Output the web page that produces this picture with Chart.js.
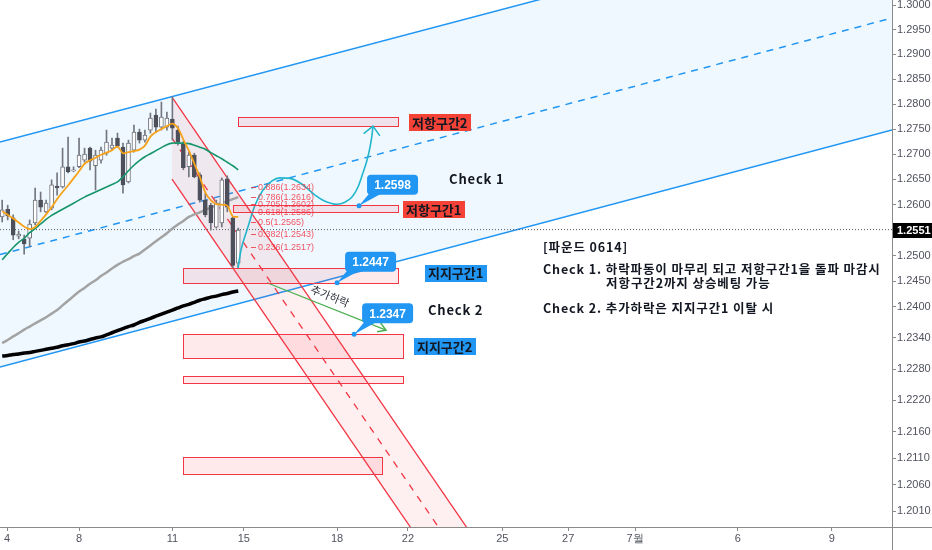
<!DOCTYPE html>
<html><head><meta charset="utf-8">
<script src="https://cdn.jsdelivr.net/npm/chart.js@4.4.1/dist/chart.umd.min.js"></script>
<style>html,body{margin:0;padding:0;background:#fff;overflow:hidden}canvas{display:block}</style>
</head><body>
<canvas id="c" width="932" height="550" style="width:932px;height:550px"></canvas>
<script>
// ---------- DATA (4H candles, GBP/USD) ----------
const candleOpen  = [1.2576,1.2591,1.2574,1.2538,1.2533,1.2534,1.2564,1.2609,1.2586,1.2593,1.2637,1.2635,1.2675,1.2667,1.2675,1.2688,1.2712,1.2677,1.2688,1.2702,1.2712,1.2732,1.2714,1.2645,1.2708,1.2744,1.2728,1.2748,1.2778,1.2754,1.2754,1.2770,1.2748,1.2722,1.2675,1.2698,1.2659,1.2609,1.2599,1.2556,1.2564,1.2651,1.2574,1.2485];
const candleHigh  = [1.2609,1.2599,1.2580,1.2548,1.2540,1.2570,1.2633,1.2625,1.2609,1.2649,1.2663,1.2712,1.2734,1.2675,1.2732,1.2712,1.2714,1.2708,1.2714,1.2748,1.2732,1.2742,1.2722,1.2728,1.2758,1.2750,1.2748,1.2782,1.2790,1.2804,1.2784,1.2814,1.2756,1.2726,1.2704,1.2702,1.2663,1.2623,1.2603,1.2609,1.2653,1.2657,1.2576,1.2554];
const candleLow   = [1.2566,1.2570,1.2531,1.2533,1.2503,1.2517,1.2560,1.2586,1.2584,1.2590,1.2619,1.2633,1.2663,1.2665,1.2673,1.2684,1.2669,1.2629,1.2682,1.2698,1.2708,1.2714,1.2623,1.2643,1.2704,1.2722,1.2724,1.2742,1.2744,1.2748,1.2748,1.2728,1.2718,1.2669,1.2655,1.2653,1.2605,1.2576,1.2550,1.2554,1.2556,1.2586,1.2476,1.2477];
const candleClose = [1.2590,1.2578,1.2540,1.2542,1.2523,1.2562,1.2609,1.2595,1.2603,1.2639,1.2633,1.2675,1.2665,1.2669,1.2698,1.2700,1.2686,1.2698,1.2708,1.2724,1.2718,1.2716,1.2639,1.2722,1.2744,1.2728,1.2738,1.2772,1.2754,1.2774,1.2772,1.2752,1.2724,1.2673,1.2698,1.2655,1.2609,1.2580,1.2564,1.2603,1.2649,1.2595,1.2481,1.2550];

const maFast = [1.2587,1.2580,1.2573,1.2565,1.2557,1.2552,1.2556,1.2568,1.2581,1.2595,1.2611,1.2625,1.2638,1.2652,1.2666,1.2681,1.2688,1.2693,1.2699,1.2703,1.2708,1.2715,1.2702,1.2704,1.2706,1.2709,1.2717,1.2735,1.2744,1.2750,1.2756,1.2761,1.2752,1.2729,1.2707,1.2681,1.2655,1.2624,1.2609,1.2601,1.2600,1.2598,1.2577,1.2576];
const maMid  = [1.2492,1.2504,1.2516,1.2526,1.2534,1.2545,1.2553,1.2562,1.2571,1.2579,1.2585,1.2591,1.2597,1.2603,1.2609,1.2615,1.2620,1.2625,1.2630,1.2635,1.2640,1.2645,1.2655,1.2667,1.2678,1.2687,1.2695,1.2701,1.2707,1.2713,1.2719,1.2722,1.2722,1.2722,1.2721,1.2718,1.2714,1.2710,1.2703,1.2697,1.2691,1.2684,1.2677,1.2669];
const ma100  = [1.2330,1.2336,1.2343,1.2349,1.2356,1.2362,1.2368,1.2374,1.2380,1.2387,1.2394,1.2403,1.2412,1.2421,1.2430,1.2437,1.2445,1.2452,1.2460,1.2467,1.2475,1.2482,1.2488,1.2493,1.2499,1.2504,1.2512,1.2520,1.2528,1.2536,1.2544,1.2553,1.2561,1.2568,1.2576,1.2581,1.2585,1.2590,1.2594,1.2599,1.2603,1.2607,1.2611,1.2615];
const ma200  = [1.2305,1.2306,1.2308,1.2309,1.2311,1.2312,1.2314,1.2316,1.2318,1.2320,1.2322,1.2325,1.2327,1.2329,1.2332,1.2334,1.2337,1.2340,1.2342,1.2346,1.2350,1.2354,1.2358,1.2362,1.2365,1.2370,1.2374,1.2378,1.2382,1.2386,1.2390,1.2394,1.2398,1.2402,1.2405,1.2409,1.2413,1.2416,1.2419,1.2421,1.2424,1.2426,1.2429,1.2431];

const xTickPos    = [0.9, 14, 31, 44, 61, 73.9, 91.1, 103.1, 115.3, 134, 151.1];
const xTickLabels = ['4','8','11','15','18','22','25','27','7월','6','9'];
const yTickValues = [1.3000,1.2950,1.2900,1.2850,1.2800,1.2750,1.2700,1.2650,1.2600,1.2500,1.2450,1.2400,1.2340,1.2280,1.2220,1.2160,1.2110,1.2060,1.2010];
const currentPrice = 1.2551;
const X_MIN = -0.4, X_MAX = 162.08, Y_MIN = 1.19802, Y_MAX = 1.30102;

// rising channel (time, price)
const channelTime  = [-0.4, 162.08];
const channelUpper = [1.27242, 1.32020];
const channelMid   = [1.25020, 1.29736];
const channelLower = [1.22838, 1.27481];
// falling channel
const fallTime  = [30.93, 88.67];
const fallUpper = [1.28141, 1.19186];
const fallMid   = [1.27321, 1.18424];
const fallLower = [1.26507, 1.17666];

// projected path
const pathTime  = [42.95,43.5,44.59,46.05,47.51,49.14,50.6,52.79,54.79,56.98,58.8,60.98,62.44,63.72,64.81,65.72,66.45,67.0,67.36,67.54];
const pathPrice = [1.2476,1.2511,1.2550,1.2599,1.2629,1.2647,1.2653,1.2651,1.2639,1.2619,1.2607,1.2601,1.2605,1.2615,1.2635,1.2663,1.2688,1.2714,1.2738,1.2756];
// extra-drop arrow
const dropTime  = [48.23, 69.91];
const dropPrice = [1.2447, 1.2355];

// zones
const zoneFrom  = [42.95, 42.04, 32.93, 32.93, 32.93, 32.93];
const zoneTo    = [72.1, 72.1, 72.1, 73.0, 73.0, 69.18];
const zoneHigh  = [1.2774, 1.2599, 1.2476, 1.2347, 1.2266, 1.2112];
const zoneLow   = [1.2756, 1.2586, 1.2446, 1.2301, 1.2253, 1.2080];

const zoneLabelText  = ['저항구간2','저항구간1','지지구간1','지지구간2'];
const zoneLabelTime  = [74.1, 73.0, 77.0, 75.0];
const zoneLabelPrice = [1.2765, 1.2592, 1.2467, 1.2324];
const zoneLabelKind  = ['resist','resist','support','support'];

const calloutValue = [1.2598, 1.2447, 1.2347];
const calloutTime  = [65.0, 61.0, 64.1];

const fibRatio = [0.886, 0.786, 0.705, 0.618, 0.5, 0.382, 0.236];
const fibPrice = [1.2634, 1.2616, 1.2602, 1.2586, 1.2565, 1.2543, 1.2517];
const fibTime  = 45.32;

const noteText  = ['Check 1','Check 2','[파운드 0614]','Check 1. 하락파동이 마무리 되고 저항구간1을 돌파 마감시','저항구간2까지 상승베팅 가능','Check 2. 추가하락은 지지구간1 이탈 시'];
const noteTime  = [81.4, 77.56, 98.5, 98.5, 110.0, 98.5];
const notePrice = [1.2651, 1.2394, 1.2517, 1.2473, 1.2446, 1.2397];
const dropLabel = '추가하락';
const dropLabelTime = 59.71, dropLabelPrice = 1.2421;

// ---------- BUILD ----------
const pts = (xs, ys) => xs.map((x, i) => ({x, y: ys[i]}));
const idxPts = arr => arr.map((v, i) => ({x: i, y: v}));
const isUp = candleOpen.map((o, i) => candleClose[i] >= o);

const lineDs = (data, color, width, extra) => Object.assign({
  type: 'line', data, borderColor: color, borderWidth: width, pointRadius: 0,
  pointHoverRadius: 0, fill: false, tension: 0
}, extra || {});

const datasets = [
  lineDs(pts(channelTime, channelUpper), '#2196f3', 1.5, {fill: 2, backgroundColor: 'rgba(33,150,243,0.07)', order: 20}),
  lineDs(pts(channelTime, channelMid), '#2196f3', 1.5, {borderDash: [7, 6], order: 19}),
  lineDs(pts(channelTime, channelLower), '#2196f3', 1.5, {order: 20}),
  lineDs(pts(fallTime, fallUpper), '#f23645', 1.3, {fill: 5, backgroundColor: 'rgba(242,54,69,0.08)', order: 18}),
  lineDs(pts(fallTime, fallMid), '#f23645', 1.3, {borderDash: [7, 7], order: 18}),
  lineDs(pts(fallTime, fallLower), '#f23645', 1.3, {order: 18}),
  lineDs(pts(channelTime, [currentPrice, currentPrice]), '#555a66', 1, {borderDash: [1, 2], order: 17}),
  lineDs(idxPts(ma200), '#000000', 3.5, {tension: 0.3, order: 16}),
  lineDs(idxPts(ma100), '#a3a3a3', 2.5, {tension: 0.3, order: 16}),
  {
    type: 'bar', data: pts(candleOpen.map((_, i) => i), candleLow.map((l, i) => [l, candleHigh[i]])),
    backgroundColor: '#737680', barThickness: 1, grouped: false, order: 12, borderWidth: 0
  },
  {
    type: 'bar', data: pts(candleOpen.map((_, i) => i), candleOpen.map((o, i) => [o, candleClose[i]])),
    backgroundColor: isUp.map(u => u ? '#ffffff' : '#4d505a'),
    borderColor: isUp.map(u => u ? '#6f727c' : '#4d505a'),
    borderWidth: 1, borderSkipped: false, barThickness: 4, grouped: false, order: 11
  },
  lineDs(idxPts(maMid), '#16946a', 1.6, {tension: 0.3, order: 5}),
  lineDs(idxPts(maFast), '#f7a21b', 1.8, {tension: 0.3, order: 4}),
  lineDs(pts(pathTime, pathPrice), '#22b6cc', 1.6, {tension: 0.4, cubicInterpolationMode: 'monotone', order: 2}),
  lineDs(pts(dropTime, dropPrice), '#4caf50', 1.2, {order: 2})
];

const annot = {
  id: 'annot',
  afterDatasetsDraw(chart) {
    const {ctx, chartArea: a} = chart;
    const X = v => chart.scales.x.getPixelForValue(v);
    const Y = v => chart.scales.y.getPixelForValue(v);
    ctx.save();
    ctx.beginPath(); ctx.rect(a.left, a.top, a.right - a.left, a.bottom - a.top); ctx.clip();

    // zones
    zoneFrom.forEach((f, i) => {
      const x1 = Math.round(X(f)) + .5, x2 = Math.round(X(zoneTo[i])) + .5;
      const y1 = Math.round(Y(zoneHigh[i])) + .5, y2 = Math.round(Y(zoneLow[i])) + .5;
      ctx.fillStyle = 'rgba(242,54,69,0.11)';
      ctx.fillRect(x1, y1, x2 - x1, y2 - y1);
      ctx.strokeStyle = '#f23645'; ctx.lineWidth = 1;
      ctx.strokeRect(x1, y1, x2 - x1, y2 - y1);
    });

    // arrowheads
    const arrowHead = (tx, ty, ang, len, spread, color) => {
      ctx.strokeStyle = color; ctx.lineWidth = 1.5;
      ctx.beginPath();
      ctx.moveTo(tx - len * Math.cos(ang - spread), ty - len * Math.sin(ang - spread));
      ctx.lineTo(tx, ty);
      ctx.lineTo(tx - len * Math.cos(ang + spread), ty - len * Math.sin(ang + spread));
      ctx.stroke();
    };
    const n = pathTime.length;
    const cx1 = X(pathTime[n - 3]), cy1 = Y(pathPrice[n - 3]);
    const cx2 = X(pathTime[n - 1]), cy2 = Y(pathPrice[n - 1]);
    arrowHead(cx2, cy2, Math.atan2(cy2 - cy1, cx2 - cx1), 12, 0.75, '#22b6cc');
    const gx1 = X(dropTime[0]), gy1 = Y(dropPrice[0]), gx2 = X(dropTime[1]), gy2 = Y(dropPrice[1]);
    const gang = Math.atan2(gy2 - gy1, gx2 - gx1);
    arrowHead(gx2, gy2, gang, 9, 0.55, '#4caf50');

    // drop label
    ctx.save();
    ctx.translate(X(dropLabelTime), Y(dropLabelPrice));
    ctx.rotate(gang);
    ctx.fillStyle = '#2a2e39';
    ctx.font = "11px 'Noto Sans CJK KR'";
    ctx.textAlign = 'center'; ctx.textBaseline = 'middle';
    ctx.fillText(dropLabel, 0, 0);
    ctx.restore();

    // fib labels
    ctx.font = "9px 'Liberation Sans'";
    ctx.textAlign = 'left'; ctx.textBaseline = 'middle';
    fibRatio.forEach((r, i) => {
      const yy = Y(fibPrice[i]), xx = X(fibTime);
      ctx.strokeStyle = 'rgba(242,54,69,0.85)'; ctx.lineWidth = 1;
      ctx.beginPath(); ctx.moveTo(xx, Math.round(yy) + .5); ctx.lineTo(xx + 5, Math.round(yy) + .5); ctx.stroke();
      ctx.fillStyle = 'rgba(242,54,69,0.85)';
      ctx.fillText(r + '(' + fibPrice[i].toFixed(4) + ')', xx + 7, yy + 0.5);
    });

    // zone labels
    ctx.font = "bold 13px 'Noto Sans CJK KR'";
    zoneLabelText.forEach((t, i) => {
      const w = ctx.measureText(t).width;
      const x0 = X(zoneLabelTime[i]), yc = Y(zoneLabelPrice[i]);
      ctx.fillStyle = zoneLabelKind[i] === 'resist' ? '#f44336' : '#2196f3';
      ctx.fillRect(Math.round(x0), Math.round(yc - 8), Math.round(w + 6), 17);
      ctx.fillStyle = '#131722';
      ctx.textBaseline = 'middle';
      ctx.fillText(t, x0 + 3, yc + 1);
    });

    // callouts
    calloutValue.forEach((v, i) => {
      const tx = X(calloutTime[i]), ty = Y(v);
      const bx = tx + 8, by = ty - 31, bw = 51, bh = 20;
      ctx.fillStyle = '#2196f3';
      ctx.beginPath();
      if (ctx.roundRect) ctx.roundRect(bx, by, bw, bh, 4); else ctx.rect(bx, by, bw, bh);
      ctx.fill();
      ctx.beginPath(); ctx.moveTo(bx + 2, by + bh - 1); ctx.lineTo(bx + 14, by + bh - 1); ctx.lineTo(tx, ty); ctx.closePath(); ctx.fill();
      ctx.beginPath(); ctx.arc(tx, ty, 2.5, 0, Math.PI * 2); ctx.fill();
      ctx.fillStyle = '#ffffff';
      ctx.font = "bold 12px 'Liberation Sans'";
      ctx.textAlign = 'center'; ctx.textBaseline = 'middle';
      ctx.fillText(v.toFixed(4), bx + bw / 2, by + bh / 2 + 1);
      ctx.textAlign = 'left';
    });

    // notes
    ctx.fillStyle = '#131722';
    ctx.textBaseline = 'middle'; ctx.textAlign = 'left';
    noteText.forEach((t, i) => {
      ctx.font = i < 2 ? "bold 13px 'Noto Sans CJK KR'" : "bold 12.5px 'Noto Sans CJK KR'";
      if ('letterSpacing' in ctx) ctx.letterSpacing = i < 2 ? '0.8px' : '0.9px';
      ctx.fillText(t, X(noteTime[i]), Y(notePrice[i]));
    });
    if ('letterSpacing' in ctx) ctx.letterSpacing = '0px';
    ctx.restore();
  },
  afterDraw(chart) {
    const {ctx, chartArea: a} = chart;
    const Y = v => chart.scales.y.getPixelForValue(v);
    ctx.save();
    ctx.strokeStyle = '#8a8a8a'; ctx.lineWidth = 1;
    ctx.beginPath();
    ctx.moveTo(Math.round(a.right) + .5, 0); ctx.lineTo(Math.round(a.right) + .5, chart.height);
    ctx.moveTo(0, Math.round(a.bottom) + .5); ctx.lineTo(chart.width, Math.round(a.bottom) + .5);
    ctx.stroke();
    const yy = Math.round(Y(currentPrice));
    ctx.fillStyle = '#000000';
    ctx.fillRect(Math.round(a.right) + 1, yy - 7, chart.width - a.right, 15);
    ctx.fillStyle = '#ffffff';
    ctx.font = "bold 11px 'Liberation Sans'";
    ctx.textBaseline = 'middle'; ctx.textAlign = 'left';
    ctx.fillText(currentPrice.toFixed(4), a.right + 5, yy + 1);
    ctx.restore();
  }
};

const tickFont = {family: "'Liberation Sans Narrow', 'Liberation Sans', Arial", size: 11};

new Chart(document.getElementById('c'), {
  type: 'bar',
  data: {datasets},
  plugins: [annot],
  options: {
    responsive: false, maintainAspectRatio: false, animation: false,
    layout: {padding: 0},
    plugins: {legend: {display: false}, tooltip: {enabled: false}},
    scales: {
      x: {
        type: 'linear', position: 'bottom', min: X_MIN, max: X_MAX, offset: false, bounds: 'data',
        grid: {display: true, drawOnChartArea: false, drawTicks: true, tickLength: 4, color: '#8a8a8a', offset: false},
        border: {display: false},
        ticks: {font: tickFont, color: '#50535e', padding: 1, autoSkip: false, maxRotation: 0,
          callback: (v, i) => xTickLabels[i]},
        afterBuildTicks: s => { s.ticks = xTickPos.map(v => ({value: v})); },
        afterFit: s => { s.height = 23; s.paddingLeft = 0; s.paddingRight = 0; }
      },
      y: {
        type: 'logarithmic', position: 'right', min: Y_MIN, max: Y_MAX, bounds: 'data',
        grid: {display: true, drawOnChartArea: false, drawTicks: true, tickLength: 4, color: '#8a8a8a'},
        border: {display: false},
        ticks: {font: tickFont, color: '#50535e', padding: 1, autoSkip: false,
          callback: v => Number(v).toFixed(4)},
        afterDataLimits: s => { s.min = Y_MIN; s.max = Y_MAX; },
        afterBuildTicks: s => { s.ticks = yTickValues.map(v => ({value: v})); },
        afterFit: s => { s.width = 40; s.paddingTop = 0; s.paddingBottom = 0; }
      }
    }
  }
});
</script>
</body></html>
